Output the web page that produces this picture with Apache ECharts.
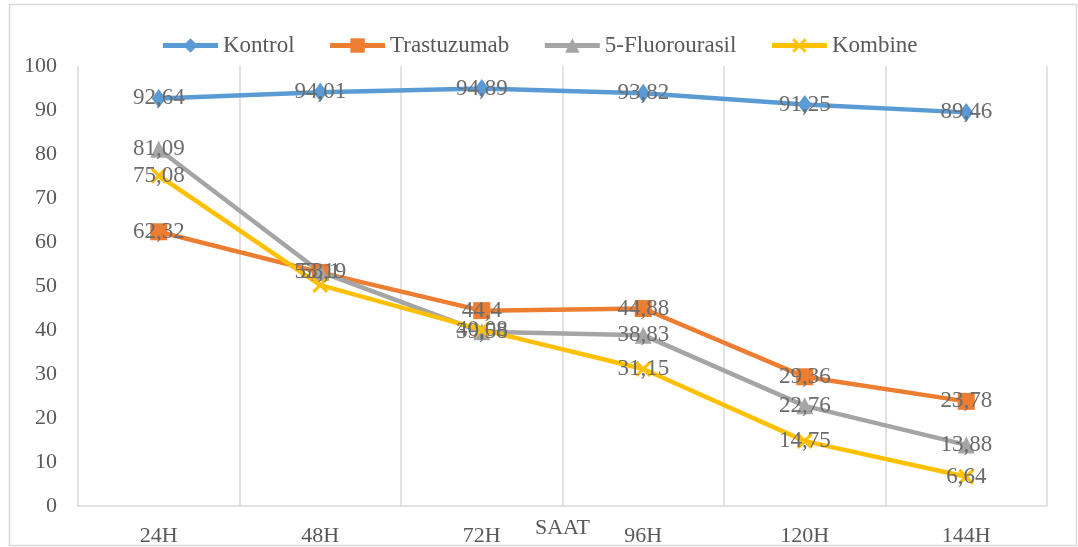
<!DOCTYPE html>
<html>
<head>
<meta charset="utf-8">
<script src="https://cdn.jsdelivr.net/npm/echarts@6/dist/echarts.min.js"></script>
<style>html,body{margin:0;padding:0;background:#fff;}#c{width:1078px;height:547px;}</style>
</head>
<body>
<div id="c"></div>
<script>
const categories = ['24H', '48H', '72H', '96H', '120H', '144H'];
const kontrol = [92.64, 94.01, 94.89, 93.82, 91.25, 89.46];
const trastuzumab = [62.32, 53.1, 44.4, 44.88, 29.36, 23.78];
const fluorourasil = [81.09, 53.19, 39.58, 38.83, 22.76, 13.88];
const kombine = [75.08, 50.2, 40.08, 31.15, 14.75, 6.64];
const yTicks = [0, 10, 20, 30, 40, 50, 60, 70, 80, 90, 100];
const hiddenKombineLabels = [1];

const FONT = "'Liberation Serif', 'Times New Roman', serif";
const TXT = '#595959';
const xPath = 'path://M0,1.4 L1.4,0 L5,3.6 L8.6,0 L10,1.4 L6.4,5 L10,8.6 L8.6,10 L5,6.4 L1.4,10 L0,8.6 L3.6,5 Z';

function fmt(v) { return String(v).replace('.', ','); }

const labelCfg = {
  show: true,
  position: 'inside',
  color: '#6b6b6b',
  fontFamily: FONT,
  fontSize: 23,
  formatter: p => fmt(p.value)
};

function mk(name, data, color, symbol, size, hidden) {
  return {
    name: name,
    type: 'line',
    data: data.map((v, i) => (hidden && hidden.indexOf(i) >= 0) ? { value: v, label: { show: false } } : v),
    symbol: symbol,
    symbolSize: size,
    showAllSymbol: true,
    lineStyle: { color: color, width: 4.5 },
    itemStyle: { color: color },
    label: labelCfg,
    emphasis: { disabled: true },
    animation: false
  };
}

const chart = echarts.init(document.getElementById('c'), null, { renderer: 'canvas' });
chart.setOption({
  backgroundColor: '#fff',
  animation: false,
  graphic: [{
    type: 'rect',
    shape: { x: 9.5, y: 4.5, width: 1067, height: 541 },
    style: { fill: 'none', stroke: '#D9D9D9', lineWidth: 1.5 },
    silent: true,
    z: -10
  }],
  legend: {
    top: 29,
    left: 'center',
    itemWidth: 55,
    itemHeight: 18,
    itemGap: 33,
    lineStyle: { width: 5 },
    textStyle: { color: TXT, fontFamily: FONT, fontSize: 23 },
    data: ['Kontrol', 'Trastuzumab', '5-Fluorourasil', 'Kombine']
  },
  grid: { left: 78, right: 31, top: 66, bottom: 41, containLabel: false, outerBoundsMode: 'none' },
  xAxis: {
    type: 'category',
    data: categories,
    boundaryGap: true,
    name: 'SAAT',
    nameLocation: 'middle',
    nameGap: 22,
    nameMoveOverlap: false,
    nameTextStyle: { color: TXT, fontFamily: FONT, fontSize: 22, verticalAlign: 'middle' },
    axisLine: { show: true, lineStyle: { color: '#D9D9D9', width: 1.5 } },
    axisTick: { show: false },
    axisLabel: { color: TXT, fontFamily: FONT, fontSize: 22, margin: 19 },
    splitLine: { show: true, lineStyle: { color: '#D9D9D9', width: 1.5 } }
  },
  yAxis: {
    type: 'value',
    min: yTicks[0],
    max: yTicks[yTicks.length - 1],
    interval: yTicks[1] - yTicks[0],
    axisLine: { show: false },
    axisTick: { show: false },
    splitLine: { show: false },
    axisLabel: { color: TXT, fontFamily: FONT, fontSize: 22, margin: 21 }
  },
  series: [
    mk('Kontrol', kontrol, '#5B9BD5', 'diamond', [14, 19]),
    mk('Trastuzumab', trastuzumab, '#ED7D31', 'rect', 17),
    mk('5-Fluorourasil', fluorourasil, '#A5A5A5', 'triangle', 17),
    mk('Kombine', kombine, '#FFC000', xPath, 16, hiddenKombineLabels)
  ]
});
</script>
</body>
</html>
